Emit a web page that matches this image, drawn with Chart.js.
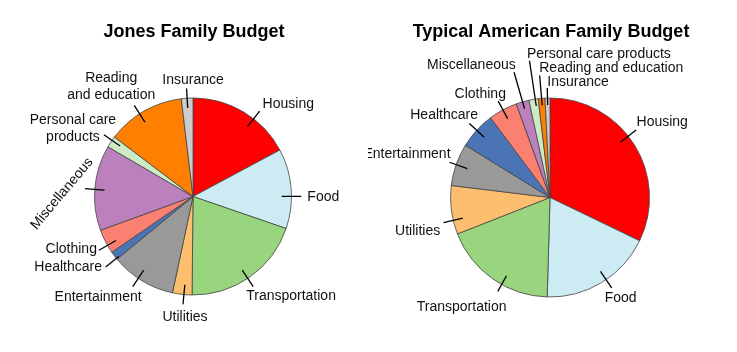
<!DOCTYPE html>
<html><head><meta charset="utf-8">
<script src="https://cdn.jsdelivr.net/npm/chart.js@4.4.0/dist/chart.umd.min.js"></script>
<style>
html,body{margin:0;padding:0;background:#fff;}
#wrap{position:relative;width:737px;height:352px;overflow:hidden;}
canvas{position:absolute;top:0;}
</style></head><body>
<div id="wrap">
<canvas id="c1" width="368" height="352" style="left:0;width:368px;height:352px"></canvas>
<canvas id="c2" width="369" height="352" style="left:368px;width:369px;height:352px"></canvas>
</div>
<script>
// ---- data ----
const categories = ['Housing','Food','Transportation','Utilities','Entertainment','Healthcare','Clothing','Miscellaneous','Personal care products','Reading and education','Insurance'];
const jonesValues   = [17.2, 13.1, 19.9, 3.2, 10.7, 1.4, 4.0, 14.0, 1.9, 12.8, 1.9];
const typicalValues = [32.2, 18.3, 18.6, 7.9, 6.9, 6.0, 4.7, 2.1, 1.5, 1.1, 0.8];
const jonesLabelText = ['Housing','Food','Transportation','Utilities','Entertainment','Healthcare','Clothing','Miscellaneous','Personal care\nproducts','Reading\nand education','Insurance'];
const typicalLabelText = categories;
const jonesTitle = 'Jones Family Budget';
const typicalTitle = 'Typical American Family Budget';

// ---- styles ----
const sliceColors = ['#FF0000','#CDEBF2','#99D47F','#FDBF6F','#999999','#4A74B6','#FA8072','#BC80BD','#CCEBC5','#FF7F00','#CCCCCC'];
const FONT = '"Liberation Sans", Arial, Helvetica, sans-serif';

// label layout: nudge (deg), line radii (fraction of r), alignment, text offset from line end
const jonesLayout = [
  {nudge: 7,   rIn:.9,  rOut:1.1,  align:'left',   dx: 3,   dy:-7},
  {nudge: 4.5, rIn:.9,  rOut:1.1,  align:'left',   dx: 6,   dy: 1},
  {nudge: 1.5, rIn:.9,  rOut:1.1,  align:'left',   dx:-7,   dy: 9.5},
  {nudge:-1,   rIn:.9,  rOut:1.1,  align:'center', dx: 2,   dy: 12.5},
  {nudge: 2.5, rIn:.9,  rOut:1.1,  align:'right',  dx: 9,   dy: 11},
  {nudge:-2,   rIn:.97, rOut:1.14, align:'right',  dx:-3.7, dy: 0.5},
  {nudge:-2.5, rIn:.9,  rOut:1.1,  align:'right',  dx:-2,   dy:-1},
  {nudge:-1,   rIn:.9,  rOut:1.1,  align:'center', dx:-23,  dy: 5, rot:-50},
  {nudge: 1,   rIn:.9,  rOut:1.1,  align:'center', dx:-31,  dy:-6},
  {nudge:-3,   rIn:.9,  rOut:1.1,  align:'center', dx:-23,  dy:-18.5},
  {nudge: 0,   rIn:.9,  rOut:1.1,  align:'center', dx: 6.5, dy:-8}
];
const typicalLayout = [
  {nudge:-6, rIn:.9,  rOut:1.1,  align:'left',  dx: 0.4, dy:-8},
  {nudge:-3, rIn:.9,  rOut:1.1,  align:'left',  dx:-7,   dy: 9.9},
  {nudge:-6, rIn:.9,  rOut:1.08, align:'right', dx: 8.7, dy: 15.3},
  {nudge:-6, rIn:.9,  rOut:1.1,  align:'right', dx:-3.3, dy: 8.7},
  {nudge: 0, rIn:.88, rOut:1.07, align:'right', dx: 1,   dy:-7.7},
  {nudge: 0, rIn:.9,  rOut:1.1,  align:'right', dx: 8.6, dy:-8},
  {nudge: 0, rIn:.9,  rOut:1.1,  align:'right', dx: 7.7, dy:-7.4},
  {nudge: 0, rIn:.93, rOut:1.31, align:'right', dx: 1.7, dy:-7},
  {nudge: 1, rIn:.93, rOut:1.39, align:'left',  dx:-2.6, dy:-6.5},
  {nudge: 0, rIn:.93, rOut:1.23, align:'left',  dx:-0.4, dy:-7},
  {nudge: 0, rIn:.93, rOut:1.1,  align:'left',  dx: 0,   dy:-5.8}
];

const labelPlugin = {
  id: 'pieLabels',
  afterDatasetsDraw(chart, args, opts) {
    const ctx = chart.ctx;
    const meta = chart.getDatasetMeta(0);
    let cx = 0;
    ctx.save();
    meta.data.forEach((arc, i) => {
      const L = opts.layout[i];
      const p = arc.getProps(['x','y','startAngle','endAngle','outerRadius'], true);
      cx = p.x;
      const a = (p.startAngle + p.endAngle) / 2 + L.nudge * Math.PI / 180;
      const r = p.outerRadius;
      const x1 = p.x + Math.cos(a) * r * L.rIn, y1 = p.y + Math.sin(a) * r * L.rIn;
      const x2 = p.x + Math.cos(a) * r * L.rOut, y2 = p.y + Math.sin(a) * r * L.rOut;
      ctx.strokeStyle = '#000';
      ctx.lineWidth = 1.3;
      ctx.beginPath(); ctx.moveTo(x1, y1); ctx.lineTo(x2, y2); ctx.stroke();
      ctx.fillStyle = '#111';
      ctx.font = '14px ' + FONT;
      ctx.textAlign = L.align;
      ctx.textBaseline = 'middle';
      const lines = opts.texts[i].split('\n');
      const lh = 17;
      const tx = x2 + L.dx, ty = y2 + L.dy;
      ctx.save();
      ctx.translate(tx, ty);
      if (L.rot) ctx.rotate(L.rot * Math.PI / 180);
      lines.forEach((t, k) => {
        ctx.fillText(t, 0, (k - (lines.length - 1) / 2) * lh);
      });
      ctx.restore();
    });
    ctx.font = 'bold 18px ' + FONT;
    ctx.fillStyle = '#000';
    ctx.textAlign = 'center';
    ctx.textBaseline = 'middle';
    ctx.fillText(opts.title, cx + (opts.titleDx || 0), 32);
    ctx.restore();
  }
};

function makePie(id, values, texts, layout, title, padding, radius, titleDx) {
  return new Chart(document.getElementById(id), {
    type: 'pie',
    data: {
      labels: categories,
      datasets: [{
        data: values,
        backgroundColor: sliceColors,
        borderColor: '#444',
        borderWidth: 0.8,
        offset: 0,
        hoverOffset: 0
      }]
    },
    options: {
      responsive: false,
      animation: false,
      events: [],
      radius: radius,
      layout: { padding: padding },
      plugins: {
        legend: { display: false },
        tooltip: { enabled: false },
        title: { display: false },
        pieLabels: { texts: texts, layout: layout, title: title, titleDx: titleDx }
      }
    },
    plugins: [labelPlugin]
  });
}

makePie('c1', jonesValues, jonesLabelText, jonesLayout, jonesTitle,
  {left: 60, right: 42, top: 61, bottom: 20}, 98.5, 1);
makePie('c2', typicalValues, typicalLabelText, typicalLayout, typicalTitle,
  {left: 40, right: 45, top: 62, bottom: 19}, 99.5, 1);
</script>
</body></html>
